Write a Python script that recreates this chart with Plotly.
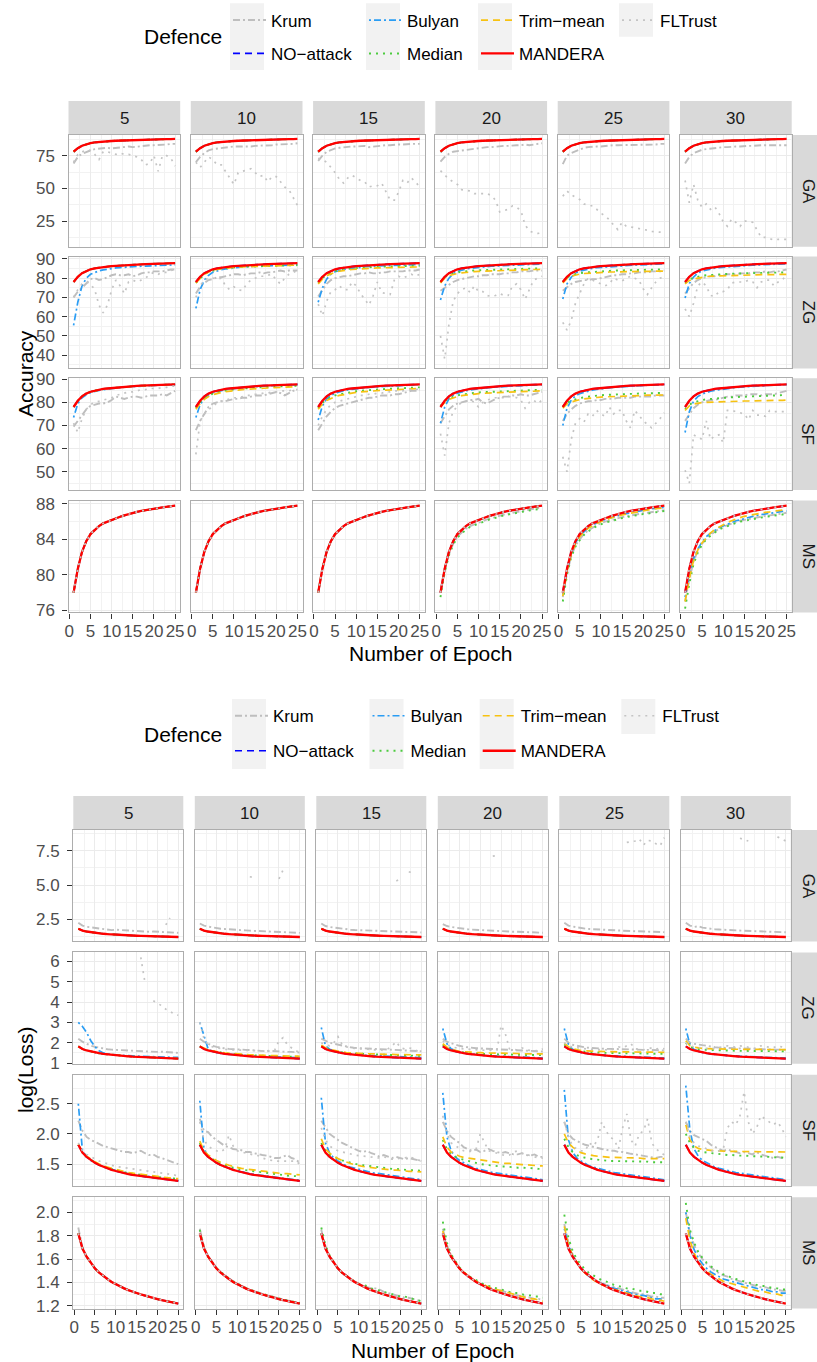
import plotly.graph_objects as go

W, H = 817, 1362
FONT = "Liberation Sans, Arial, sans-serif"

EPOCHS = list(range(1, 26))
COLS = [5, 10, 15, 20, 25, 30]
ROWS = ["GA", "ZG", "SF", "MS"]
DEFENCES = ["Krum", "NO-attack", "Bulyan", "Median", "Trim-mean", "MANDERA", "FLTrust"]
LABELS = ["Krum", "NO\u2212attack", "Bulyan", "Median", "Trim\u2212mean", "MANDERA", "FLTrust"]

X_TICKS = [0, 5, 10, 15, 20, 25]
X_TICKTEXT = ["0", "5", "10", "15", "20", "25"]
X_MINOR = [2.5, 7.5, 12.5, 17.5, 22.5]

ACC_TICKS = {"GA": [25, 50, 75], "ZG": [40, 50, 60, 70, 80, 90], "SF": [50, 60, 70, 80, 90], "MS": [76, 80, 84, 88]}
ACC_TICKTEXT = {"GA": ["25", "50", "75"], "ZG": ["40", "50", "60", "70", "80", "90"],
                "SF": ["50", "60", "70", "80", "90"], "MS": ["76", "80", "84", "88"]}
ACC_MINOR = {"GA": [12.5, 37.5, 62.5, 87.5], "ZG": [35, 45, 55, 65, 75, 85], "SF": [45, 55, 65, 75, 85], "MS": [78, 82, 86]}
LOSS_TICKS = {"GA": [2.5, 5.0, 7.5], "ZG": [1, 2, 3, 4, 5, 6], "SF": [1.5, 2.0, 2.5], "MS": [1.2, 1.4, 1.6, 1.8, 2.0]}
LOSS_TICKTEXT = {"GA": ["2.5", "5.0", "7.5"], "ZG": ["1", "2", "3", "4", "5", "6"],
                 "SF": ["1.5", "2.0", "2.5"], "MS": ["1.2", "1.4", "1.6", "1.8", "2.0"]}
LOSS_MINOR = {"GA": [1.25, 3.75, 6.25, 8.75], "ZG": [1.5, 2.5, 3.5, 4.5, 5.5], "SF": [1.25, 1.75, 2.25, 2.75],
              "MS": [1.3, 1.5, 1.7, 1.9, 2.1]}

N = None

# ---------------- Accuracy data ----------------
ACC_BASE = [78.0, 80.7, 82.6, 83.8, 84.6, 85.1, 85.5, 85.8, 86.0, 86.2, 86.4, 86.55, 86.7, 86.85, 87.0, 87.1, 87.2, 87.3, 87.38, 87.45, 87.52, 87.6, 87.66, 87.72, 87.8]

ACC_GA_KRUM_5 = [69, 74, 76.5, 78, 79, 80, 80.5, 81, 81, 80.5, 81, 81.5, 82, 82, 81.5, 82, 82.5, 82.5, 83, 83, 83, 83.5, 83.5, 84, 84]
ACC_GA_FLT_5 = [70, 76, 78, 79, 79, 76, 72, 78, 78, 77, 76, 77, 76, 76, 75, 74, 72, 68, 69, 75, 63, 75, 75, 73, 67]
ACC_GA_KRUM_10 = [70, 74, 77, 79, 80, 80.5, 81, 81.5, 81.5, 82, 82, 82, 81.5, 82, 82.5, 82.5, 83, 83, 83, 83.5, 83.5, 83.5, 84, 84, 84.5]
ACC_GA_FLT_10 = [70, 66, 70, 74, 72, 68, 68, 63, 58, 53, 62, 63, 64, 65, 62, 59, 60, 55, 59, 59, 55, 51, 49, 43, 37]
ACC_GA_KRUM_15 = [71, 75, 78, 79.5, 80.5, 81, 81.5, 81.5, 82, 82, 82.5, 82.5, 81.5, 82, 82.5, 83, 83, 83, 83.5, 83.5, 83.5, 84, 84, 84, 84]
ACC_GA_FLT_15 = [73, 72, 70, 66, 62, 57, 54, 58, 60, 58, 56, 55, 51, 52, 52, 54, 47, 41, 41, 47, 56, 54, 58, 55, 51]
ACC_GA_KRUM_20 = [70.5, 74, 76.5, 78, 78.5, 79, 79.5, 80, 80.5, 80.5, 81, 81.5, 81.5, 82, 82, 82.5, 82.5, 83, 83, 83, 83.5, 83, 83.5, 84, 84.5]
ACC_GA_FLT_20 = [63.5, 60, 57, 55, 53, 49, 48.5, 48, 46, 46, 46, 46, 44.5, 41, 32, 33, 34, 36.5, 35.5, 33, 22, 17.5, 16, 15.5, 16]
ACC_GA_KRUM_25 = [68.5, 75, 77, 78.5, 80, 81, 81.5, 82, 82, 82, 82.5, 82.5, 83, 83, 83, 83, 83.5, 83.5, 83.5, 83, 83.5, 83.5, 83.5, 84, 84]
ACC_GA_FLT_25 = [44, 48, 45, 43, 41.5, 38, 37, 36.5, 34, 31, 29, 26, 22, 18.5, 24, 21, 20.5, 20, 19.5, 19, 18, 17, 17, 16.5, 16]
ACC_GA_KRUM_30 = [69, 74, 77, 78.5, 79.5, 80, 80.5, 81, 81, 81.5, 81.5, 82, 82, 82, 82.5, 82.5, 82.5, 83, 83, 83, 83, 83, 83.5, 83.5, 83]
ACC_GA_FLT_30 = [56, 39, 53, 41, 35.5, 38, 34, 36, 31, 24.5, 21, 26.5, 24, 21, 25, 25, 24, 18, 12.5, 12.5, 11.5, 10.5, 11, 11, 11]

ACC_ZG_KRUM_5 = [70, 73, 75, 77.5, 79.5, 80, 79, 79.5, 80.5, 81.5, 82, 81.5, 81.5, 82, 81, 81.5, 82.5, 83, 83, 83.5, 83.5, 83.5, 84, 84.5, 84.5]
ACC_ZG_BULYAN_5 = [55.5, 67.5, 76, 80, 82, 83, 83.8, 84.3, 84.7, 85, 85.3, 85.5, 85.7, 85.9, 86, 86.1, 86.2, 86.3, 86.4, 86.5, 86.6, 86.7, 86.8, 86.85, 86.9]
ACC_ZG_FLT_5 = [70, 74, 77, 78, 77, 74, 66, 62, 66, 74, 79, 76, 72, 78, 79, 78, 79, 80, 82, 83, 82, 83, 83, 84, 84.5]
ACC_ZG_KRUM_10 = [72, 75.5, 77.5, 79, 79.5, 80.5, 80.5, 81, 81.5, 82, 82, 81.5, 82, 82.5, 82.5, 83, 82.5, 83, 83, 83.5, 84, 83.5, 84, 84, 84]
ACC_ZG_BULYAN_10 = [64.3, 74, 79, 81.5, 83, 83.8, 84.4, 84.8, 85.1, 85.4, 85.6, 85.8, 86, 86.1, 86.2, 86.3, 86.4, 86.5, 86.6, 86.6, 86.7, 86.8, 86.8, 86.9, 87]
ACC_ZG_TRIM_10 = [77.5, 80, 82, 83.2, 84, 84.5, 84.9, 85.2, 85.4, 85.6, 85.8, 85.9, 86, 86.1, 86.2, 86.3, 86.35, 86.4, 86.45, 86.5, 86.55, 86.6, 86.65, 86.7, 86.75]
ACC_ZG_FLT_10 = [70, 76, 79, 80, 80, 79.5, 80, 76, 74, 75.5, 74, 73.5, 77, 79, 80, 81, 81, 81.5, 82, 79, 77, 80, 82, 83, 84]
ACC_ZG_KRUM_15 = [70.5, 74, 77, 79, 80, 80.5, 81, 81, 81.5, 82, 82.5, 82.5, 83, 82.5, 82.5, 83, 83, 83.5, 83.5, 83.5, 83.5, 84, 84, 84, 84.5]
ACC_ZG_BULYAN_15 = [67.5, 75, 79.5, 82, 83.3, 84, 84.5, 84.9, 85.2, 85.5, 85.7, 85.9, 86.1, 86.2, 86.3, 86.4, 86.5, 86.6, 86.7, 86.8, 86.85, 86.9, 87, 87, 87.1]
ACC_ZG_MEDIAN_15 = [77.5, 80, 81.8, 83, 83.7, 84.2, 84.6, 84.9, 85.1, 85.3, 85.5, 85.6, 85.7, 85.8, 85.9, 86, 86, 86.1, 86.1, 86.2, 86.2, 86.3, 86.3, 86.4, 86.4]
ACC_ZG_TRIM_15 = [77, 79.5, 81.3, 82.4, 83.1, 83.6, 84, 84.3, 84.5, 84.7, 84.9, 85, 85.1, 85.2, 85.3, 85.4, 85.4, 85.5, 85.5, 85.6, 85.6, 85.7, 85.7, 85.8, 85.8]
ACC_ZG_FLT_15 = [66.5, 60.5, 68, 73, 74, 76, 74, 74, 78, 76, 72, 69, 66, 71, 78, 72.5, 72, 71.5, 79, 81, 80, 81, 82, 81, 82]
ACC_ZG_KRUM_20 = [73.5, 75, 76.5, 78, 79, 79.5, 80, 80.5, 81, 81, 81.5, 81.5, 82, 82, 82, 82.5, 82.5, 83, 83, 83.5, 83.5, 83.5, 84, 84, 84]
ACC_ZG_BULYAN_20 = [68.7, 76, 80, 82.3, 83.5, 84.2, 84.7, 85.1, 85.4, 85.6, 85.8, 86, 86.2, 86.3, 86.45, 86.6, 86.7, 86.8, 86.9, 87, 87.1, 87.2, 87.3, 87.3, 87.4]
ACC_ZG_MEDIAN_20 = [78, 80.5, 81.8, 82.5, 83, 83.3, 83.6, 83.8, 84, 84.1, 84.2, 84.3, 84.4, 84.5, 84.6, 84.6, 84.7, 84.8, 84.8, 84.9, 84.9, 85, 85, 85.1, 85.1]
ACC_ZG_TRIM_20 = [77.5, 80, 81.3, 82, 82.4, 82.7, 83, 83.2, 83.4, 83.5, 83.6, 83.7, 83.8, 83.9, 84, 84, 84.1, 84.2, 84.2, 84.3, 84.4, 84.4, 84.5, 84.5, 84.6]
ACC_ZG_FLT_20 = [50, 38, 56, 68, 72, 74, 75, 72.5, 76, 73, 73, 71, 70.5, 71, 72, 71, 71, 76, 77, 74, 69, 74, 79, 80, 81]
ACC_ZG_KRUM_25 = [73.5, 75.5, 77, 78, 78.5, 79, 79, 79.5, 79.5, 80, 80.5, 81, 81.5, 81.5, 82, 82, 82.5, 82.5, 83, 83, 83, 83.5, 83.5, 83.5, 84]
ACC_ZG_BULYAN_25 = [69.2, 77, 80.5, 82.5, 83.6, 84.2, 84.7, 85.1, 85.4, 85.6, 85.8, 86, 86.2, 86.3, 86.45, 86.6, 86.7, 86.8, 86.9, 87, 87.1, 87.2, 87.3, 87.3, 87.4]
ACC_ZG_MEDIAN_25 = [78, 80.3, 81.5, 82.2, 82.6, 82.9, 83.1, 83.3, 83.5, 83.6, 83.7, 83.8, 83.9, 84, 84, 84.1, 84.2, 84.2, 84.3, 84.3, 84.4, 84.4, 84.5, 84.5, 84.5]
ACC_ZG_TRIM_25 = [77.5, 79.8, 81, 81.7, 82.1, 82.4, 82.6, 82.8, 82.9, 83, 83.1, 83.2, 83.2, 83.3, 83.3, 83.4, 83.4, 83.5, 83.5, 83.5, 83.6, 83.6, 83.6, 83.7, 83.7]
ACC_ZG_FLT_25 = [57, 53, 58, 67, 72, 77, 80, 79, 78, 77, 76, 77, 80, 79, 78.5, 80, 81, 80, 79, 74.5, 71.5, 75, 78, 80, 81]
ACC_ZG_KRUM_30 = [72, 75, 77.5, 79, 80, 80.5, 81, 81, 81.5, 81.5, 82, 82, 82, 82.5, 82.5, 82.5, 83, 83, 83, 83.5, 83, 83.5, 83.5, 84, 84.5]
ACC_ZG_BULYAN_30 = [69.7, 77.2, 80.6, 82.6, 83.7, 84.3, 84.8, 85.2, 85.5, 85.7, 85.9, 86.1, 86.3, 86.4, 86.5, 86.65, 86.75, 86.85, 86.95, 87.05, 87.15, 87.25, 87.3, 87.35, 87.45]
ACC_ZG_MEDIAN_30 = [77.5, 79.3, 80.2, 80.8, 81.2, 81.5, 81.7, 81.9, 82, 82.1, 82.2, 82.3, 82.4, 82.5, 82.5, 82.6, 82.6, 82.7, 82.7, 82.8, 82.8, 82.9, 82.9, 83, 83]
ACC_ZG_TRIM_30 = [77, 78.8, 79.6, 80.1, 80.5, 80.8, 81, 81.1, 81.2, 81.3, 81.4, 81.5, 81.5, 81.6, 81.6, 81.7, 81.7, 81.7, 81.8, 81.8, 81.8, 81.9, 81.9, 81.9, 82]
ACC_ZG_FLT_30 = [64, 60, 67, 76, 78, 76, 71, 70.5, 73, 73, 74, 77.5, 78, 78, 78, 79, 78, 75, 78, 79, 79, 76, 78, 79, 82]

ACC_SF_KRUM_5 = [69.5, 72, 75, 77, 78.5, 79, 79.5, 79.5, 80, 81, 82.5, 82, 81.5, 82, 82.5, 82.5, 82, 82.5, 83, 83, 83, 83.5, 83, 84, 85]
ACC_SF_BULYAN_5 = [73.5, 79.5, 82, 83.3, 84.2, 84.8, 85.2, 85.5, 85.8, 86, 86.2, 86.4, 86.55, 86.7, 86.85, 87, 87.1, 87.2, 87.3, 87.35, 87.4, 87.5, 87.55, 87.6, 87.7]
ACC_SF_FLT_5 = [71, 67, 73, 77, 79, 80, 80.5, 81, 81.5, 82, 83, 83.5, 84, 84.5, 84.5, 85, 85.5, 85.5, 86, 86, 86, 86.5, 86.5, 87, 87]
ACC_SF_KRUM_10 = [68, 72, 75, 78, 79.5, 80, 80.5, 80.5, 81, 81.5, 81.5, 82, 82, 82.5, 83, 83, 83, 83.5, 84, 84.5, 84, 83, 84, 85, 85.5]
ACC_SF_BULYAN_10 = [73.5, 79, 81.8, 83.2, 84.1, 84.7, 85.1, 85.5, 85.8, 86, 86.2, 86.4, 86.55, 86.7, 86.85, 87, 87.1, 87.2, 87.3, 87.35, 87.4, 87.5, 87.55, 87.6, 87.7]
ACC_SF_MEDIAN_10 = [77.5, 80, 81.8, 83, 83.8, 84.4, 84.8, 85.1, 85.4, 85.6, 85.8, 86, 86.1, 86.3, 86.4, 86.5, 86.6, 86.7, 86.8, 86.9, 87, 87, 87.1, 87.2, 87.2]
ACC_SF_TRIM_10 = [77, 79.5, 81.3, 82.5, 83.3, 83.9, 84.3, 84.6, 84.9, 85.1, 85.3, 85.5, 85.6, 85.8, 85.9, 86, 86.1, 86.2, 86.3, 86.4, 86.5, 86.5, 86.6, 86.7, 86.8]
ACC_SF_FLT_10 = [57.5, 72, 75, 77, 78, 80, 80.5, 81, 81.5, 82, 82, 82.5, 83, 83, 83.5, 83.5, 84, 84, 84.5, 84.5, 85, 85, 85, 85.5, 85.5]
ACC_SF_KRUM_15 = [68, 71, 74, 76, 77.5, 78.5, 79, 79.5, 80, 80.5, 81, 81.5, 82, 82, 82.5, 83, 83, 83, 83.5, 83.5, 84, 84.5, 85, 85, 85.5]
ACC_SF_BULYAN_15 = [72.4, 78.5, 81.5, 83, 84, 84.6, 85, 85.4, 85.7, 85.9, 86.1, 86.3, 86.5, 86.6, 86.75, 86.9, 87, 87.1, 87.2, 87.3, 87.4, 87.45, 87.5, 87.6, 87.7]
ACC_SF_MEDIAN_15 = [77.5, 79.8, 81.3, 82.3, 83, 83.5, 83.9, 84.3, 84.6, 84.8, 85, 85.2, 85.4, 85.5, 85.6, 85.7, 85.8, 85.9, 86, 86.1, 86.2, 86.3, 86.4, 86.4, 86.5]
ACC_SF_TRIM_15 = [77, 79.3, 80.8, 81.8, 82.5, 83, 83.4, 83.8, 84.1, 84.3, 84.5, 84.7, 84.9, 85, 85.1, 85.2, 85.3, 85.4, 85.5, 85.6, 85.7, 85.8, 85.9, 85.9, 86]
ACC_SF_FLT_15 = [70, 74, 77, 79, 80, 80.5, 81, 81.5, 82, 82.5, 83, 83, 83.5, 83.5, 84, 84, 84.5, 84.5, 85, 85, 85, 85.5, 85.5, 85.5, 86]
ACC_SF_KRUM_20 = [71, 74, 77, 78.5, 79.5, 80, 80.5, 81, 81, 81.5, 80, 79.5, 80.5, 81.5, 82, 82.5, 82.5, 83, 83, 83.5, 83, 83, 83.5, 84, 84.5]
ACC_SF_BULYAN_20 = [71, 78, 81.5, 83, 84, 84.6, 85, 85.4, 85.7, 85.9, 86.1, 86.3, 86.5, 86.6, 86.75, 86.9, 87, 87.1, 87.2, 87.3, 87.4, 87.45, 87.5, 87.6, 87.7]
ACC_SF_MEDIAN_20 = [78.5, 80.5, 81.8, 82.5, 83, 83.4, 83.7, 83.9, 84.1, 84.3, 84.4, 84.5, 84.6, 84.7, 84.8, 84.9, 85, 85, 85.1, 85.2, 85.2, 85.3, 85.3, 85.4, 85.4]
ACC_SF_TRIM_20 = [78, 80, 81.3, 82, 82.5, 82.9, 83.2, 83.4, 83.6, 83.8, 83.9, 84, 84.1, 84.2, 84.3, 84.4, 84.5, 84.5, 84.6, 84.7, 84.7, 84.8, 84.8, 84.9, 85]
ACC_SF_FLT_20 = [66.5, 57, 71, 76, 78.5, 80, 80.5, 81, 80, 78, 80, 81, 81.5, 82, 82, 82, 82.5, 82.5, 82, 81, 77.5, 80, 81, 79.5, 81]
ACC_SF_KRUM_25 = [72, 75, 77, 78.5, 79.5, 80, 80.5, 80.5, 81, 81, 81.5, 81.5, 81.5, 82, 82, 82, 82, 82.5, 82.5, 82.5, 82.5, 82.5, 83, 83, 83]
ACC_SF_BULYAN_25 = [70, 77.5, 81, 82.8, 83.8, 84.4, 84.9, 85.3, 85.6, 85.9, 86.1, 86.3, 86.5, 86.6, 86.75, 86.9, 87, 87.1, 87.2, 87.3, 87.4, 87.45, 87.5, 87.6, 87.7]
ACC_SF_MEDIAN_25 = [78, 79.8, 80.8, 81.4, 81.8, 82.2, 82.5, 82.7, 82.9, 83.1, 83.2, 83.3, 83.4, 83.5, 83.6, 83.6, 83.7, 83.8, 83.8, 83.9, 83.9, 84, 84, 84.1, 84.1]
ACC_SF_TRIM_25 = [77.5, 79.3, 80.2, 80.8, 81.2, 81.5, 81.8, 82, 82.1, 82.3, 82.4, 82.5, 82.6, 82.7, 82.8, 82.8, 82.9, 82.9, 83, 83, 83.1, 83.1, 83.2, 83.2, 83.2]
ACC_SF_FLT_25 = [56.5, 50, 64, 71, 73, 71.5, 75, 74, 76.5, 75, 74, 78, 75, 76.5, 76.5, 72, 69, 76.5, 74.5, 72, 70.5, 69, 71, 73, 75.5]
ACC_SF_KRUM_30 = [72, 75, 77.5, 79, 80, 80.5, 81, 81, 81.5, 82, 82.5, 82.5, 83, 83, 83, 83.5, 83.5, 83.5, 83, 83.5, 83.5, 83.5, 84, 84.5, 85]
ACC_SF_BULYAN_30 = [67, 76, 80.5, 82.5, 83.6, 84.3, 84.8, 85.2, 85.5, 85.8, 86, 86.2, 86.4, 86.55, 86.7, 86.85, 86.95, 87.05, 87.15, 87.25, 87.35, 87.45, 87.5, 87.6, 87.7]
ACC_SF_MEDIAN_30 = [77, 79, 80, 80.6, 81, 81.3, 81.5, 81.7, 81.9, 82, 82.1, 82.2, 82.3, 82.4, 82.5, 82.6, 82.7, 82.7, 82.8, 82.9, 82.9, 83, 83, 83.1, 83.2]
ACC_SF_TRIM_30 = [76.5, 78.5, 79.3, 79.7, 79.9, 80, 80.1, 80.2, 80.3, 80.3, 80.4, 80.4, 80.5, 80.5, 80.6, 80.6, 80.6, 80.7, 80.7, 80.8, 80.8, 80.8, 80.9, 80.9, 81]
ACC_SF_FLT_30 = [50.7, 45, 66, 65, 64, 72, 64, 65.5, 66, 62.5, 76.5, 76.5, 76, 75.5, 75, 72.5, 76.5, 74.5, 74.5, 74, 76.5, 76, 76, 76, 76]

ACC_MS_KRUM_20 = [78, 80.5, 82.3, 83.5, 84.3, 84.8, 85.2, 85.5, 85.7, 85.9, 86.1, 86.25, 86.4, 86.55, 86.7, 86.8, 86.9, 87, 87.1, 87.2, 87.25, 87.35, 87.45, 87.5, 87.6]
ACC_MS_MEDIAN_20 = [77.5, 80.3, 82.2, 83.4, 84.2, 84.7, 85.1, 85.4, 85.6, 85.8, 86, 86.15, 86.3, 86.45, 86.6, 86.7, 86.8, 86.9, 87, 87.1, 87.15, 87.25, 87.35, 87.4, 87.5]
ACC_MS_KRUM_25 = [77.5, 80.2, 82.1, 83.3, 84, 84.6, 85, 85.3, 85.6, 85.8, 86, 86.1, 86.25, 86.4, 86.5, 86.6, 86.7, 86.8, 86.9, 86.95, 87, 87.1, 87.15, 87.2, 87.3]
ACC_MS_MEDIAN_25 = [77, 80, 82, 83.2, 83.9, 84.5, 84.9, 85.2, 85.5, 85.7, 85.9, 86, 86.15, 86.3, 86.4, 86.5, 86.6, 86.7, 86.8, 86.85, 86.9, 87, 87.05, 87.1, 87.2]
ACC_MS_BULYAN_25 = [77.8, 80.5, 82.4, 83.6, 84.4, 84.9, 85.3, 85.6, 85.85, 86.05, 86.25, 86.4, 86.55, 86.7, 86.8, 86.9, 87, 87.1, 87.2, 87.3, 87.35, 87.45, 87.5, 87.55, 87.6]
ACC_MS_TRIM_25 = [77.6, 80.4, 82.3, 83.5, 84.3, 84.85, 85.25, 85.55, 85.8, 86, 86.2, 86.35, 86.5, 86.65, 86.75, 86.85, 86.95, 87.05, 87.15, 87.25, 87.3, 87.4, 87.45, 87.5, 87.55]
ACC_MS_KRUM_30 = [77, 79.5, 81.5, 82.7, 83.5, 84.1, 84.5, 84.9, 85.2, 85.4, 85.6, 85.8, 85.95, 86.1, 86.2, 86.3, 86.4, 86.5, 86.6, 86.65, 86.7, 86.8, 86.85, 86.9, 87.0]
ACC_MS_MEDIAN_30 = [76.2, 79.0, 81.2, 82.5, 83.4, 84.0, 84.4, 84.8, 85.1, 85.3, 85.5, 85.7, 85.85, 86.0, 86.1, 86.2, 86.3, 86.4, 86.5, 86.55, 86.6, 86.7, 86.75, 86.8, 86.9]
ACC_MS_BULYAN_30 = [77.5, 80.0, 81.8, 82.9, 83.7, 84.3, 84.7, 85.0, 85.3, 85.5, 85.7, 85.9, 86.1, 86.2, 86.35, 86.5, 86.6, 86.7, 86.8, 86.9, 86.95, 87.0, 87.1, 87.15, 87.2]
ACC_MS_TRIM_30 = [77.0, 79.6, 81.6, 82.8, 83.6, 84.2, 84.7, 85.1, 85.4, 85.7, 85.9, 86.1, 86.3, 86.45, 86.6, 86.7, 86.8, 86.9, 87.0, 87.05, 87.1, 87.2, 87.25, 87.3, 87.4]

# ---------------- log(Loss) data ----------------
LOSS_BASE = [1.82, 1.69, 1.62, 1.565, 1.52, 1.485, 1.455, 1.43, 1.405, 1.385, 1.365, 1.35, 1.335, 1.32, 1.31, 1.298, 1.287, 1.277, 1.267, 1.258, 1.25, 1.242, 1.235, 1.228, 1.22]

LOSS_GA_KRUM_5 = [2.25, 2.05, 1.96, 1.92, 1.88, 1.85, 1.8, 1.76, 1.72, 1.75, 1.73, 1.68, 1.66, 1.65, 1.66, 1.64, 1.62, 1.6, 1.62, 1.6, 1.58, 1.56, 1.57, 1.55, 1.52]
LOSS_GA_FLT_5 = [N, N, N, N, N, N, N, N, N, N, N, N, N, N, N, N, N, N, N, N, N, 2.1, 2.6, N, N]
LOSS_GA_KRUM_10 = [2.2, 2.05, 1.98, 1.92, 1.86, 1.82, 1.8, 1.77, 1.75, 1.74, 1.72, 1.7, 1.68, 1.67, 1.66, 1.65, 1.64, 1.63, 1.62, 1.6, 1.58, 1.56, 1.55, 1.54, 1.52]
LOSS_GA_FLT_10 = [N, N, N, N, N, N, N, N, N, N, N, N, 5.6, 5.55, N, N, N, N, N, 5.45, 6.1, N, N, N, N]
LOSS_GA_KRUM_15 = [2.2, 2.02, 1.95, 1.9, 1.85, 1.8, 1.78, 1.75, 1.73, 1.72, 1.7, 1.68, 1.66, 1.66, 1.65, 1.64, 1.62, 1.6, 1.6, 1.62, 1.6, 1.58, 1.58, 1.56, 1.55]
LOSS_GA_FLT_15 = [N, N, N, N, N, N, N, N, N, N, N, N, N, N, N, N, N, N, 5.3, 5.45, N, 5.95, 5.9, N, N]
LOSS_GA_KRUM_20 = [2.15, 2.02, 1.95, 1.9, 1.85, 1.82, 1.78, 1.76, 1.74, 1.72, 1.7, 1.68, 1.68, 1.66, 1.64, 1.63, 1.62, 1.6, 1.6, 1.59, 1.58, 1.57, 1.56, 1.55, 1.53]
LOSS_GA_FLT_20 = [N, N, N, N, N, N, N, N, N, N, N, N, 7.1, 7.15, N, N, N, N, N, N, N, N, N, N, N]
LOSS_GA_KRUM_25 = [2.25, 2.05, 1.98, 1.92, 1.87, 1.83, 1.8, 1.78, 1.76, 1.74, 1.72, 1.7, 1.69, 1.68, 1.67, 1.66, 1.65, 1.64, 1.63, 1.62, 1.61, 1.6, 1.59, 1.58, 1.57]
LOSS_GA_FLT_25 = [N, N, N, N, N, N, N, N, N, N, N, N, N, N, N, 8.1, 8.15, 8.2, 8.35, 7.9, 8.25, 8.2, 8.0, 7.85, 8.45]
LOSS_GA_KRUM_30 = [2.25, 2.05, 1.95, 2.0, 1.9, 1.85, 1.8, 1.78, 1.76, 1.74, 1.73, 1.72, 1.7, 1.68, 1.68, 1.66, 1.65, 1.64, 1.63, 1.62, 1.6, 1.6, 1.58, 1.57, 1.56]
LOSS_GA_FLT_30 = [N, N, N, N, N, N, N, N, N, N, N, N, N, 8.4, 8.3, 8.2, N, N, N, N, N, N, 8.5, 8.35, 8.2]

LOSS_ZG_KRUM_5 = [2.2, 2.05, 1.95, 1.85, 1.8, 1.75, 1.7, 1.68, 1.66, 1.65, 1.65, 1.64, 1.62, 1.6, 1.6, 1.58, 1.56, 1.55, 1.55, 1.55, 1.56, 1.55, 1.54, 1.52, 1.5]
LOSS_ZG_BULYAN_5 = [3.0, 2.8, 2.5, 2.1, 1.8, 1.6, 1.5, 1.45, 1.42, 1.4, 1.38, 1.37, 1.36, 1.35, 1.34, 1.33, 1.32, 1.31, 1.31, 1.3, 1.3, 1.29, 1.29, 1.28, 1.28]
LOSS_ZG_FLT_5 = [N, N, N, N, N, N, N, N, N, N, N, N, N, N, N, 6.2, 4.95, N, 4.06, 3.95, 3.82, 3.65, 3.55, 3.4, 3.35]
LOSS_ZG_KRUM_10 = [2.2, 2.05, 1.95, 1.85, 1.8, 1.75, 1.72, 1.7, 1.68, 1.67, 1.66, 1.65, 1.64, 1.62, 1.6, 1.6, 1.58, 1.6, 1.58, 1.57, 1.56, 1.55, 1.55, 1.54, 1.52]
LOSS_ZG_BULYAN_10 = [3.0, 2.3, 1.7, 1.58, 1.52, 1.48, 1.45, 1.43, 1.41, 1.39, 1.37, 1.36, 1.35, 1.34, 1.33, 1.32, 1.31, 1.3, 1.29, 1.28, 1.28, 1.27, 1.27, 1.26, 1.26]
LOSS_ZG_MEDIAN_10 = [1.82, 1.71, 1.64, 1.59, 1.55, 1.51, 1.48, 1.46, 1.44, 1.42, 1.41, 1.4, 1.39, 1.38, 1.37, 1.36, 1.35, 1.35, 1.34, 1.33, 1.33, 1.32, 1.32, 1.31, 1.31]
LOSS_ZG_TRIM_10 = [1.82, 1.72, 1.65, 1.6, 1.56, 1.53, 1.5, 1.48, 1.46, 1.44, 1.43, 1.42, 1.41, 1.4, 1.39, 1.38, 1.37, 1.37, 1.36, 1.36, 1.35, 1.35, 1.34, 1.34, 1.33]
LOSS_ZG_FLT_10 = [3.0, 2.2, 1.9, 1.8, 1.75, 1.7, 1.68, 1.66, 1.65, 1.64, 1.63, 1.62, 1.6, 1.6, 1.58, 1.6, 1.6, 1.62, 1.65, 2.1, 2.25, 1.9, 1.75, 1.6, 1.55]
LOSS_ZG_KRUM_15 = [2.2, 2.1, 2.0, 1.95, 1.9, 1.85, 1.8, 1.78, 1.75, 1.74, 1.73, 1.72, 1.7, 1.7, 1.68, 1.67, 1.66, 1.65, 1.64, 1.63, 1.62, 1.62, 1.6, 1.6, 1.58]
LOSS_ZG_BULYAN_15 = [2.75, 1.85, 1.68, 1.6, 1.55, 1.5, 1.47, 1.45, 1.43, 1.41, 1.39, 1.38, 1.37, 1.36, 1.35, 1.34, 1.33, 1.32, 1.31, 1.3, 1.3, 1.29, 1.28, 1.28, 1.27]
LOSS_ZG_MEDIAN_15 = [1.85, 1.73, 1.65, 1.6, 1.56, 1.53, 1.5, 1.48, 1.47, 1.45, 1.44, 1.43, 1.42, 1.41, 1.41, 1.4, 1.39, 1.39, 1.38, 1.38, 1.37, 1.37, 1.36, 1.36, 1.36]
LOSS_ZG_TRIM_15 = [1.88, 1.75, 1.67, 1.62, 1.58, 1.55, 1.52, 1.5, 1.49, 1.48, 1.47, 1.46, 1.45, 1.45, 1.44, 1.44, 1.43, 1.43, 1.42, 1.42, 1.42, 1.41, 1.41, 1.41, 1.4]
LOSS_ZG_FLT_15 = [2.0, 1.9, 1.85, 2.0, 2.3, 1.9, 1.8, 1.75, 1.72, 1.7, 1.7, 1.68, 1.66, 1.65, 1.64, 1.62, 1.7, 1.85, 2.05, 1.75, 1.7, 1.75, 1.7, 1.6, 1.55]
LOSS_ZG_KRUM_20 = [2.2, 2.05, 1.98, 1.9, 1.85, 1.8, 1.77, 1.75, 1.73, 1.72, 1.71, 1.7, 1.69, 1.68, 1.68, 1.67, 1.66, 1.65, 1.64, 1.63, 1.62, 1.6, 1.59, 1.58, 1.57]
LOSS_ZG_BULYAN_20 = [2.7, 1.95, 1.7, 1.6, 1.54, 1.5, 1.47, 1.44, 1.42, 1.4, 1.38, 1.36, 1.35, 1.34, 1.33, 1.32, 1.31, 1.3, 1.29, 1.28, 1.27, 1.26, 1.26, 1.25, 1.25]
LOSS_ZG_MEDIAN_20 = [1.9, 1.75, 1.65, 1.59, 1.55, 1.52, 1.5, 1.48, 1.47, 1.46, 1.45, 1.44, 1.44, 1.43, 1.43, 1.42, 1.42, 1.41, 1.41, 1.41, 1.4, 1.4, 1.4, 1.39, 1.39]
LOSS_ZG_TRIM_20 = [1.95, 1.78, 1.68, 1.62, 1.58, 1.56, 1.54, 1.53, 1.52, 1.51, 1.5, 1.5, 1.49, 1.49, 1.48, 1.48, 1.47, 1.47, 1.47, 1.46, 1.46, 1.46, 1.45, 1.45, 1.45]
LOSS_ZG_FLT_20 = [2.1, 1.9, 1.8, 1.75, 1.72, 1.7, 1.68, 1.66, 1.65, 1.64, 1.63, 1.62, 1.62, 1.65, 2.85, 2.45, 1.7, 1.66, 1.64, 1.75, 1.65, 1.62, 1.6, 1.62, 1.7]
LOSS_ZG_KRUM_25 = [2.2, 2.0, 1.9, 1.85, 1.8, 1.77, 1.75, 1.73, 1.72, 1.71, 1.7, 1.7, 1.69, 1.68, 1.68, 1.67, 1.67, 1.66, 1.66, 1.65, 1.65, 1.64, 1.64, 1.63, 1.62]
LOSS_ZG_BULYAN_25 = [2.7, 1.9, 1.68, 1.58, 1.52, 1.48, 1.45, 1.43, 1.41, 1.39, 1.37, 1.36, 1.35, 1.34, 1.33, 1.32, 1.31, 1.3, 1.29, 1.28, 1.27, 1.26, 1.26, 1.25, 1.25]
LOSS_ZG_MEDIAN_25 = [1.92, 1.75, 1.66, 1.61, 1.58, 1.56, 1.54, 1.53, 1.52, 1.51, 1.5, 1.5, 1.49, 1.49, 1.48, 1.48, 1.48, 1.47, 1.47, 1.47, 1.47, 1.46, 1.46, 1.46, 1.46]
LOSS_ZG_TRIM_25 = [1.98, 1.8, 1.7, 1.65, 1.62, 1.6, 1.59, 1.58, 1.57, 1.57, 1.56, 1.56, 1.56, 1.55, 1.55, 1.55, 1.55, 1.54, 1.54, 1.54, 1.54, 1.54, 1.53, 1.53, 1.53]
LOSS_ZG_FLT_25 = [2.0, 1.85, 1.78, 1.75, 1.72, 1.7, 1.68, 1.67, 1.66, 1.66, 1.65, 1.65, 1.7, 1.8, 1.75, 1.85, 1.95, 1.7, 1.66, 1.65, 1.7, 1.75, 1.68, 1.75, 1.7]
LOSS_ZG_KRUM_30 = [2.2, 2.0, 1.95, 1.9, 1.88, 1.85, 1.8, 1.78, 1.76, 1.75, 1.74, 1.73, 1.72, 1.71, 1.7, 1.7, 1.69, 1.68, 1.68, 1.67, 1.67, 1.66, 1.66, 1.65, 1.65]
LOSS_ZG_BULYAN_30 = [2.7, 1.9, 1.66, 1.57, 1.52, 1.48, 1.45, 1.43, 1.41, 1.39, 1.37, 1.36, 1.35, 1.34, 1.33, 1.32, 1.31, 1.3, 1.29, 1.28, 1.27, 1.26, 1.25, 1.24, 1.24]
LOSS_ZG_MEDIAN_30 = [2.0, 1.8, 1.72, 1.68, 1.66, 1.65, 1.64, 1.63, 1.62, 1.62, 1.61, 1.61, 1.61, 1.6, 1.6, 1.6, 1.6, 1.6, 1.59, 1.59, 1.59, 1.59, 1.59, 1.58, 1.58]
LOSS_ZG_TRIM_30 = [2.1, 1.85, 1.78, 1.74, 1.72, 1.71, 1.7, 1.7, 1.69, 1.69, 1.69, 1.68, 1.68, 1.68, 1.68, 1.68, 1.67, 1.67, 1.67, 1.67, 1.67, 1.67, 1.66, 1.66, 1.66]
LOSS_ZG_FLT_30 = [2.0, 1.85, 1.8, 1.76, 1.74, 1.72, 1.7, 1.72, 1.75, 1.8, 1.85, 1.8, 1.78, 1.85, 1.8, 1.78, 1.75, 1.72, 1.85, 1.8, 1.78, 1.75, 1.85, 1.8, 1.75]

LOSS_SF_KRUM_5 = [2.22, 2.05, 1.95, 1.9, 1.87, 1.83, 1.8, 1.78, 1.76, 1.75, 1.73, 1.7, 1.7, 1.68, 1.7, 1.72, 1.68, 1.65, 1.66, 1.62, 1.6, 1.58, 1.55, 1.52, 1.5]
LOSS_SF_BULYAN_5 = [2.5, 1.72, 1.62, 1.56, 1.52, 1.48, 1.45, 1.43, 1.41, 1.39, 1.37, 1.35, 1.34, 1.33, 1.32, 1.31, 1.3, 1.29, 1.28, 1.27, 1.26, 1.25, 1.245, 1.24, 1.23]
LOSS_SF_MEDIAN_5 = [1.82, 1.69, 1.62, 1.57, 1.53, 1.49, 1.46, 1.44, 1.42, 1.4, 1.38, 1.37, 1.35, 1.34, 1.33, 1.32, 1.31, 1.3, 1.3, 1.29, 1.28, 1.27, 1.26, 1.26, 1.25]
LOSS_SF_TRIM_5 = [1.83, 1.7, 1.63, 1.58, 1.54, 1.5, 1.47, 1.45, 1.43, 1.41, 1.39, 1.37, 1.36, 1.35, 1.34, 1.33, 1.32, 1.31, 1.3, 1.29, 1.28, 1.27, 1.27, 1.26, 1.26]
LOSS_SF_FLT_5 = [1.85, 1.72, 1.66, 1.62, 1.58, 1.55, 1.53, 1.5, 1.48, 1.46, 1.45, 1.44, 1.43, 1.42, 1.41, 1.41, 1.4, 1.39, 1.38, 1.37, 1.36, 1.35, 1.33, 1.32, 1.3]
LOSS_SF_KRUM_10 = [2.25, 2.05, 2.03, 1.95, 1.9, 1.85, 1.8, 1.78, 1.75, 1.74, 1.73, 1.7, 1.7, 1.68, 1.66, 1.65, 1.64, 1.62, 1.6, 1.6, 1.62, 1.65, 1.6, 1.58, 1.52]
LOSS_SF_BULYAN_10 = [2.55, 1.75, 1.63, 1.56, 1.52, 1.48, 1.45, 1.43, 1.41, 1.39, 1.37, 1.35, 1.34, 1.33, 1.32, 1.31, 1.3, 1.29, 1.28, 1.27, 1.26, 1.25, 1.245, 1.24, 1.23]
LOSS_SF_MEDIAN_10 = [1.85, 1.7, 1.63, 1.58, 1.54, 1.51, 1.48, 1.46, 1.44, 1.42, 1.41, 1.4, 1.39, 1.38, 1.37, 1.36, 1.35, 1.34, 1.33, 1.33, 1.32, 1.31, 1.3, 1.3, 1.29]
LOSS_SF_TRIM_10 = [1.88, 1.72, 1.65, 1.6, 1.56, 1.53, 1.5, 1.48, 1.46, 1.44, 1.43, 1.42, 1.41, 1.4, 1.39, 1.38, 1.37, 1.36, 1.36, 1.35, 1.34, 1.34, 1.33, 1.32, 1.32]
LOSS_SF_FLT_10 = [2.2, 1.9, 1.8, 1.75, 1.72, 1.7, 1.75, 1.98, 1.8, 1.72, 1.7, 1.68, 1.66, 1.65, 1.64, 1.6, 1.58, 1.56, 1.55, 1.55, 1.55, 1.56, 1.55, 1.55, 1.5]
LOSS_SF_KRUM_15 = [2.22, 2.1, 2.0, 1.95, 1.9, 1.85, 1.82, 1.78, 1.75, 1.72, 1.7, 1.72, 1.68, 1.66, 1.62, 1.65, 1.62, 1.6, 1.62, 1.6, 1.58, 1.6, 1.58, 1.56, 1.55]
LOSS_SF_BULYAN_15 = [2.6, 1.85, 1.68, 1.6, 1.55, 1.51, 1.47, 1.45, 1.43, 1.41, 1.39, 1.37, 1.36, 1.35, 1.34, 1.33, 1.32, 1.31, 1.3, 1.29, 1.28, 1.27, 1.26, 1.25, 1.24]
LOSS_SF_MEDIAN_15 = [1.85, 1.72, 1.66, 1.62, 1.59, 1.56, 1.54, 1.52, 1.5, 1.49, 1.48, 1.47, 1.46, 1.45, 1.44, 1.43, 1.43, 1.42, 1.42, 1.41, 1.41, 1.4, 1.4, 1.39, 1.39]
LOSS_SF_TRIM_15 = [1.92, 1.75, 1.68, 1.63, 1.59, 1.56, 1.53, 1.51, 1.49, 1.47, 1.46, 1.45, 1.44, 1.43, 1.42, 1.41, 1.41, 1.4, 1.4, 1.39, 1.39, 1.38, 1.38, 1.37, 1.37]
LOSS_SF_FLT_15 = [2.1, 1.9, 1.8, 1.75, 1.72, 1.7, 1.68, 1.66, 1.65, 1.64, 1.63, 1.62, 1.61, 1.6, 1.6, 1.62, 1.6, 1.58, 1.58, 1.6, 1.6, 1.62, 1.6, 1.58, 1.55]
LOSS_SF_KRUM_20 = [2.2, 2.05, 1.95, 1.9, 1.85, 1.78, 1.75, 1.72, 1.74, 1.7, 1.72, 1.75, 1.72, 1.7, 1.68, 1.7, 1.68, 1.66, 1.66, 1.68, 1.65, 1.64, 1.66, 1.62, 1.62]
LOSS_SF_BULYAN_20 = [2.68, 1.95, 1.72, 1.62, 1.56, 1.52, 1.48, 1.45, 1.43, 1.41, 1.39, 1.37, 1.36, 1.35, 1.34, 1.33, 1.32, 1.31, 1.3, 1.29, 1.28, 1.27, 1.26, 1.25, 1.24]
LOSS_SF_MEDIAN_20 = [1.9, 1.75, 1.67, 1.62, 1.59, 1.57, 1.55, 1.53, 1.52, 1.5, 1.49, 1.48, 1.48, 1.47, 1.46, 1.46, 1.45, 1.45, 1.44, 1.44, 1.44, 1.43, 1.43, 1.42, 1.42]
LOSS_SF_TRIM_20 = [1.95, 1.78, 1.7, 1.66, 1.63, 1.61, 1.6, 1.58, 1.57, 1.56, 1.55, 1.54, 1.53, 1.53, 1.52, 1.51, 1.51, 1.5, 1.5, 1.49, 1.49, 1.48, 1.48, 1.47, 1.47]
LOSS_SF_FLT_20 = [2.3, 2.0, 1.85, 1.8, 1.76, 1.72, 1.7, 1.72, 1.75, 2.0, 1.85, 1.72, 1.7, 1.68, 1.66, 1.64, 1.65, 1.7, 1.72, 1.68, 1.66, 1.64, 1.62, 1.6, 1.6]
LOSS_SF_KRUM_25 = [2.2, 2.0, 1.92, 1.88, 1.85, 1.82, 1.8, 1.78, 1.76, 1.75, 1.74, 1.72, 1.72, 1.7, 1.7, 1.68, 1.67, 1.66, 1.65, 1.64, 1.63, 1.62, 1.6, 1.62, 1.62]
LOSS_SF_BULYAN_25 = [2.73, 1.9, 1.7, 1.6, 1.55, 1.51, 1.47, 1.45, 1.43, 1.41, 1.39, 1.37, 1.36, 1.35, 1.34, 1.33, 1.32, 1.31, 1.3, 1.29, 1.28, 1.27, 1.26, 1.25, 1.24]
LOSS_SF_MEDIAN_25 = [1.92, 1.78, 1.7, 1.65, 1.62, 1.6, 1.59, 1.58, 1.57, 1.56, 1.56, 1.55, 1.55, 1.55, 1.54, 1.54, 1.54, 1.54, 1.54, 1.54, 1.54, 1.53, 1.53, 1.53, 1.53]
LOSS_SF_TRIM_25 = [2.0, 1.85, 1.78, 1.73, 1.69, 1.67, 1.65, 1.64, 1.63, 1.62, 1.62, 1.61, 1.61, 1.61, 1.6, 1.6, 1.6, 1.6, 1.6, 1.59, 1.59, 1.59, 1.59, 1.59, 1.59]
LOSS_SF_FLT_25 = [2.2, 1.95, 1.8, 1.75, 1.72, 1.72, 1.85, 1.8, 1.9, 2.2, 2.05, 1.95, 1.9, 1.75, 2.1, 2.33, 1.9, 1.8, 2.0, 2.05, 2.25, 1.85, 1.75, 1.7, 1.65]
LOSS_SF_KRUM_30 = [2.2, 2.05, 1.98, 1.95, 1.92, 1.88, 1.82, 1.78, 1.75, 1.72, 1.74, 1.72, 1.7, 1.68, 1.7, 1.68, 1.66, 1.7, 1.66, 1.64, 1.62, 1.6, 1.62, 1.6, 1.62]
LOSS_SF_BULYAN_30 = [2.8, 2.05, 1.75, 1.63, 1.56, 1.52, 1.48, 1.45, 1.43, 1.41, 1.39, 1.37, 1.36, 1.35, 1.34, 1.33, 1.32, 1.31, 1.3, 1.29, 1.28, 1.27, 1.26, 1.25, 1.24]
LOSS_SF_MEDIAN_30 = [2.0, 1.85, 1.76, 1.72, 1.7, 1.69, 1.68, 1.67, 1.66, 1.66, 1.65, 1.65, 1.64, 1.64, 1.64, 1.63, 1.63, 1.63, 1.62, 1.62, 1.62, 1.61, 1.61, 1.61, 1.6]
LOSS_SF_TRIM_30 = [2.15, 1.9, 1.8, 1.76, 1.74, 1.73, 1.72, 1.72, 1.72, 1.71, 1.71, 1.71, 1.71, 1.7, 1.7, 1.7, 1.7, 1.7, 1.7, 1.7, 1.7, 1.7, 1.7, 1.7, 1.7]
LOSS_SF_FLT_30 = [2.2, 1.95, 1.85, 1.8, 1.78, 1.75, 1.72, 1.7, 1.72, 1.75, 2.1, 2.2, 2.15, 2.3, 2.7, 2.2, 2.0, 2.1, 2.3, 2.25, 2.2, 2.15, 2.2, 2.1, 1.95]

LOSS_MS_KRUM_5 = [1.87, 1.7, 1.62, 1.565, 1.52, 1.485, 1.455, 1.43, 1.405, 1.385, 1.365, 1.35, 1.335, 1.32, 1.31, 1.298, 1.287, 1.277, 1.267, 1.258, 1.25, 1.242, 1.235, 1.228, 1.22]
LOSS_MS_KRUM_10 = [1.86, 1.7, 1.625, 1.57, 1.525, 1.49, 1.46, 1.435, 1.41, 1.39, 1.37, 1.355, 1.34, 1.325, 1.315, 1.303, 1.292, 1.282, 1.272, 1.263, 1.255, 1.247, 1.24, 1.233, 1.225]
LOSS_MS_MEDIAN_10 = [1.85, 1.7, 1.62, 1.57, 1.525, 1.49, 1.46, 1.435, 1.41, 1.39, 1.37, 1.355, 1.34, 1.325, 1.315, 1.303, 1.292, 1.282, 1.272, 1.263, 1.255, 1.247, 1.24, 1.233, 1.225]
LOSS_MS_KRUM_15 = [1.85, 1.71, 1.63, 1.57, 1.52, 1.48, 1.45, 1.43, 1.41, 1.39, 1.37, 1.36, 1.35, 1.35, 1.34, 1.32, 1.31, 1.3, 1.29, 1.28, 1.27, 1.27, 1.26, 1.25, 1.24]
LOSS_MS_MEDIAN_15 = [1.87, 1.72, 1.63, 1.57, 1.52, 1.48, 1.46, 1.43, 1.41, 1.39, 1.38, 1.37, 1.35, 1.34, 1.33, 1.32, 1.31, 1.3, 1.29, 1.28, 1.28, 1.27, 1.26, 1.25, 1.24]
LOSS_MS_KRUM_20 = [1.86, 1.72, 1.63, 1.57, 1.52, 1.48, 1.45, 1.43, 1.41, 1.39, 1.37, 1.36, 1.35, 1.34, 1.33, 1.32, 1.31, 1.3, 1.29, 1.28, 1.28, 1.27, 1.26, 1.26, 1.25]
LOSS_MS_MEDIAN_20 = [1.92, 1.74, 1.64, 1.58, 1.53, 1.49, 1.46, 1.44, 1.42, 1.4, 1.38, 1.37, 1.36, 1.35, 1.34, 1.33, 1.32, 1.31, 1.31, 1.3, 1.29, 1.29, 1.28, 1.28, 1.27]
LOSS_MS_TRIM_20 = [1.84, 1.7, 1.62, 1.57, 1.52, 1.49, 1.46, 1.43, 1.41, 1.39, 1.38, 1.36, 1.35, 1.34, 1.33, 1.32, 1.31, 1.3, 1.29, 1.28, 1.27, 1.26, 1.26, 1.25, 1.24]
LOSS_MS_KRUM_25 = [1.9, 1.74, 1.64, 1.57, 1.52, 1.49, 1.46, 1.43, 1.41, 1.4, 1.38, 1.37, 1.36, 1.35, 1.34, 1.33, 1.32, 1.31, 1.3, 1.3, 1.29, 1.28, 1.28, 1.27, 1.27]
LOSS_MS_MEDIAN_25 = [1.98, 1.78, 1.67, 1.6, 1.55, 1.51, 1.48, 1.46, 1.44, 1.42, 1.41, 1.39, 1.38, 1.37, 1.36, 1.35, 1.35, 1.34, 1.33, 1.33, 1.32, 1.31, 1.31, 1.3, 1.3]
LOSS_MS_BULYAN_25 = [1.86, 1.72, 1.63, 1.57, 1.52, 1.48, 1.45, 1.43, 1.41, 1.39, 1.38, 1.36, 1.35, 1.34, 1.33, 1.32, 1.31, 1.3, 1.29, 1.29, 1.28, 1.27, 1.26, 1.26, 1.25]
LOSS_MS_TRIM_25 = [1.88, 1.72, 1.63, 1.57, 1.52, 1.48, 1.45, 1.42, 1.4, 1.38, 1.37, 1.35, 1.34, 1.33, 1.32, 1.31, 1.3, 1.29, 1.28, 1.27, 1.27, 1.26, 1.25, 1.25, 1.24]
LOSS_MS_KRUM_30 = [2.0, 1.82, 1.72, 1.65, 1.6, 1.56, 1.53, 1.5, 1.48, 1.46, 1.45, 1.43, 1.42, 1.41, 1.4, 1.39, 1.38, 1.37, 1.36, 1.36, 1.35, 1.34, 1.34, 1.33, 1.33]
LOSS_MS_MEDIAN_30 = [2.08, 1.85, 1.74, 1.66, 1.61, 1.57, 1.54, 1.51, 1.49, 1.47, 1.46, 1.44, 1.43, 1.42, 1.41, 1.4, 1.39, 1.38, 1.37, 1.37, 1.36, 1.35, 1.35, 1.34, 1.34]
LOSS_MS_BULYAN_30 = [2.0, 1.8, 1.68, 1.61, 1.56, 1.52, 1.49, 1.47, 1.45, 1.43, 1.42, 1.41, 1.4, 1.39, 1.38, 1.37, 1.36, 1.35, 1.34, 1.34, 1.33, 1.32, 1.32, 1.31, 1.31]
LOSS_MS_TRIM_30 = [1.95, 1.76, 1.65, 1.58, 1.53, 1.5, 1.47, 1.45, 1.43, 1.41, 1.4, 1.39, 1.38, 1.37, 1.36, 1.35, 1.34, 1.33, 1.32, 1.32, 1.31, 1.3, 1.3, 1.29, 1.29]

# series that are not listed for a panel coincide with the MANDERA curve (ACC_BASE / LOSS_BASE)
ACC_PANELS = {
    ("GA", 5): {"Krum": ACC_GA_KRUM_5, "FLTrust": ACC_GA_FLT_5},
    ("GA", 10): {"Krum": ACC_GA_KRUM_10, "FLTrust": ACC_GA_FLT_10},
    ("GA", 15): {"Krum": ACC_GA_KRUM_15, "FLTrust": ACC_GA_FLT_15},
    ("GA", 20): {"Krum": ACC_GA_KRUM_20, "FLTrust": ACC_GA_FLT_20},
    ("GA", 25): {"Krum": ACC_GA_KRUM_25, "FLTrust": ACC_GA_FLT_25},
    ("GA", 30): {"Krum": ACC_GA_KRUM_30, "FLTrust": ACC_GA_FLT_30},
    ("ZG", 5): {"Krum": ACC_ZG_KRUM_5, "Bulyan": ACC_ZG_BULYAN_5, "FLTrust": ACC_ZG_FLT_5},
    ("ZG", 10): {"Krum": ACC_ZG_KRUM_10, "Bulyan": ACC_ZG_BULYAN_10, "Median": ACC_ZG_TRIM_10, "Trim-mean": ACC_ZG_TRIM_10, "FLTrust": ACC_ZG_FLT_10},
    ("ZG", 15): {"Krum": ACC_ZG_KRUM_15, "Bulyan": ACC_ZG_BULYAN_15, "Median": ACC_ZG_MEDIAN_15, "Trim-mean": ACC_ZG_TRIM_15, "FLTrust": ACC_ZG_FLT_15},
    ("ZG", 20): {"Krum": ACC_ZG_KRUM_20, "Bulyan": ACC_ZG_BULYAN_20, "Median": ACC_ZG_MEDIAN_20, "Trim-mean": ACC_ZG_TRIM_20, "FLTrust": ACC_ZG_FLT_20},
    ("ZG", 25): {"Krum": ACC_ZG_KRUM_25, "Bulyan": ACC_ZG_BULYAN_25, "Median": ACC_ZG_MEDIAN_25, "Trim-mean": ACC_ZG_TRIM_25, "FLTrust": ACC_ZG_FLT_25},
    ("ZG", 30): {"Krum": ACC_ZG_KRUM_30, "Bulyan": ACC_ZG_BULYAN_30, "Median": ACC_ZG_MEDIAN_30, "Trim-mean": ACC_ZG_TRIM_30, "FLTrust": ACC_ZG_FLT_30},
    ("SF", 5): {"Krum": ACC_SF_KRUM_5, "Bulyan": ACC_SF_BULYAN_5, "FLTrust": ACC_SF_FLT_5},
    ("SF", 10): {"Krum": ACC_SF_KRUM_10, "Bulyan": ACC_SF_BULYAN_10, "Median": ACC_SF_MEDIAN_10, "Trim-mean": ACC_SF_TRIM_10, "FLTrust": ACC_SF_FLT_10},
    ("SF", 15): {"Krum": ACC_SF_KRUM_15, "Bulyan": ACC_SF_BULYAN_15, "Median": ACC_SF_MEDIAN_15, "Trim-mean": ACC_SF_TRIM_15, "FLTrust": ACC_SF_FLT_15},
    ("SF", 20): {"Krum": ACC_SF_KRUM_20, "Bulyan": ACC_SF_BULYAN_20, "Median": ACC_SF_MEDIAN_20, "Trim-mean": ACC_SF_TRIM_20, "FLTrust": ACC_SF_FLT_20},
    ("SF", 25): {"Krum": ACC_SF_KRUM_25, "Bulyan": ACC_SF_BULYAN_25, "Median": ACC_SF_MEDIAN_25, "Trim-mean": ACC_SF_TRIM_25, "FLTrust": ACC_SF_FLT_25},
    ("SF", 30): {"Krum": ACC_SF_KRUM_30, "Bulyan": ACC_SF_BULYAN_30, "Median": ACC_SF_MEDIAN_30, "Trim-mean": ACC_SF_TRIM_30, "FLTrust": ACC_SF_FLT_30},
    ("MS", 20): {"Krum": ACC_MS_KRUM_20, "Median": ACC_MS_MEDIAN_20},
    ("MS", 25): {"Krum": ACC_MS_KRUM_25, "Median": ACC_MS_MEDIAN_25, "Bulyan": ACC_MS_BULYAN_25, "Trim-mean": ACC_MS_TRIM_25},
    ("MS", 30): {"Krum": ACC_MS_KRUM_30, "Median": ACC_MS_MEDIAN_30, "Bulyan": ACC_MS_BULYAN_30, "Trim-mean": ACC_MS_TRIM_30},
}

LOSS_PANELS = {
    ("GA", 5): {"Krum": LOSS_GA_KRUM_5, "FLTrust": LOSS_GA_FLT_5},
    ("GA", 10): {"Krum": LOSS_GA_KRUM_10, "FLTrust": LOSS_GA_FLT_10},
    ("GA", 15): {"Krum": LOSS_GA_KRUM_15, "FLTrust": LOSS_GA_FLT_15},
    ("GA", 20): {"Krum": LOSS_GA_KRUM_20, "FLTrust": LOSS_GA_FLT_20},
    ("GA", 25): {"Krum": LOSS_GA_KRUM_25, "FLTrust": LOSS_GA_FLT_25},
    ("GA", 30): {"Krum": LOSS_GA_KRUM_30, "FLTrust": LOSS_GA_FLT_30},
    ("ZG", 5): {"Krum": LOSS_ZG_KRUM_5, "Bulyan": LOSS_ZG_BULYAN_5, "FLTrust": LOSS_ZG_FLT_5},
    ("ZG", 10): {"Krum": LOSS_ZG_KRUM_10, "Bulyan": LOSS_ZG_BULYAN_10, "Median": LOSS_ZG_MEDIAN_10, "Trim-mean": LOSS_ZG_TRIM_10, "FLTrust": LOSS_ZG_FLT_10},
    ("ZG", 15): {"Krum": LOSS_ZG_KRUM_15, "Bulyan": LOSS_ZG_BULYAN_15, "Median": LOSS_ZG_MEDIAN_15, "Trim-mean": LOSS_ZG_TRIM_15, "FLTrust": LOSS_ZG_FLT_15},
    ("ZG", 20): {"Krum": LOSS_ZG_KRUM_20, "Bulyan": LOSS_ZG_BULYAN_20, "Median": LOSS_ZG_MEDIAN_20, "Trim-mean": LOSS_ZG_TRIM_20, "FLTrust": LOSS_ZG_FLT_20},
    ("ZG", 25): {"Krum": LOSS_ZG_KRUM_25, "Bulyan": LOSS_ZG_BULYAN_25, "Median": LOSS_ZG_MEDIAN_25, "Trim-mean": LOSS_ZG_TRIM_25, "FLTrust": LOSS_ZG_FLT_25},
    ("ZG", 30): {"Krum": LOSS_ZG_KRUM_30, "Bulyan": LOSS_ZG_BULYAN_30, "Median": LOSS_ZG_MEDIAN_30, "Trim-mean": LOSS_ZG_TRIM_30, "FLTrust": LOSS_ZG_FLT_30},
    ("SF", 5): {"Krum": LOSS_SF_KRUM_5, "Bulyan": LOSS_SF_BULYAN_5, "Median": LOSS_SF_MEDIAN_5, "Trim-mean": LOSS_SF_TRIM_5, "FLTrust": LOSS_SF_FLT_5},
    ("SF", 10): {"Krum": LOSS_SF_KRUM_10, "Bulyan": LOSS_SF_BULYAN_10, "Median": LOSS_SF_MEDIAN_10, "Trim-mean": LOSS_SF_TRIM_10, "FLTrust": LOSS_SF_FLT_10},
    ("SF", 15): {"Krum": LOSS_SF_KRUM_15, "Bulyan": LOSS_SF_BULYAN_15, "Median": LOSS_SF_MEDIAN_15, "Trim-mean": LOSS_SF_TRIM_15, "FLTrust": LOSS_SF_FLT_15},
    ("SF", 20): {"Krum": LOSS_SF_KRUM_20, "Bulyan": LOSS_SF_BULYAN_20, "Median": LOSS_SF_MEDIAN_20, "Trim-mean": LOSS_SF_TRIM_20, "FLTrust": LOSS_SF_FLT_20},
    ("SF", 25): {"Krum": LOSS_SF_KRUM_25, "Bulyan": LOSS_SF_BULYAN_25, "Median": LOSS_SF_MEDIAN_25, "Trim-mean": LOSS_SF_TRIM_25, "FLTrust": LOSS_SF_FLT_25},
    ("SF", 30): {"Krum": LOSS_SF_KRUM_30, "Bulyan": LOSS_SF_BULYAN_30, "Median": LOSS_SF_MEDIAN_30, "Trim-mean": LOSS_SF_TRIM_30, "FLTrust": LOSS_SF_FLT_30},
    ("MS", 5): {"Krum": LOSS_MS_KRUM_5},
    ("MS", 10): {"Krum": LOSS_MS_KRUM_10, "Median": LOSS_MS_MEDIAN_10},
    ("MS", 15): {"Krum": LOSS_MS_KRUM_15, "Median": LOSS_MS_MEDIAN_15},
    ("MS", 20): {"Krum": LOSS_MS_KRUM_20, "Median": LOSS_MS_MEDIAN_20, "Trim-mean": LOSS_MS_TRIM_20},
    ("MS", 25): {"Krum": LOSS_MS_KRUM_25, "Median": LOSS_MS_MEDIAN_25, "Bulyan": LOSS_MS_BULYAN_25, "Trim-mean": LOSS_MS_TRIM_25},
    ("MS", 30): {"Krum": LOSS_MS_KRUM_30, "Median": LOSS_MS_MEDIAN_30, "Bulyan": LOSS_MS_BULYAN_30, "Trim-mean": LOSS_MS_TRIM_30},
}

ACC_YRANGE = {"GA": [5.3, 90.8], "ZG": [33.1, 91.2], "SF": [42.1, 90.4], "MS": [75.77, 88.37]}
LOSS_YRANGE = {"GA": [0.9, 9.0], "ZG": [0.965, 6.44], "SF": [1.133, 2.98], "MS": [1.177, 2.129]}

# ---------------- styles ----------------
STYLE = {
    "Krum": dict(color="#BEBEBE", width=1.9, dash="7px,3px,2px,3px"),
    "NO-attack": dict(color="#0000FF", width=1.7, dash="7px,5px"),
    "Bulyan": dict(color="#2A9DF4", width=1.7, dash="2px,3px,7px,3px"),
    "Median": dict(color="#4CCB3F", width=1.9, dash="2px,5px"),
    "Trim-mean": dict(color="#F7C211", width=1.7, dash="7px,5px"),
    "MANDERA": dict(color="#FF0000", width=2.3, dash="solid"),
    "FLTrust": dict(color="#C4C4C4", width=1.7, dash="2px,5px"),
}
LEGEND_OF = {"Krum": 0, "NO-attack": 0, "Bulyan": 1, "Median": 1, "Trim-mean": 2, "MANDERA": 2, "FLTrust": 3}

# ---------------- geometry (pixels) ----------------
CHARTS = [
    dict(name="acc", panels=ACC_PANELS, base=ACC_BASE, yrange=ACC_YRANGE, ticks=ACC_TICKS, ticktext=ACC_TICKTEXT,
         minor=ACC_MINOR, col_x=[68.5, 190.8, 313.1, 435.4, 557.7, 680.0], pw=111.7,
         row_y=[135.0, 256.6, 378.3, 500.6], ph=111.8, strip_top=101.0, strip_right=808.0,
         ytitle="Accuracy", ytitle_y=374.0, xtitle_y=653.0, key_x=[230, 366, 478, 619], key_top=3.3, key_h=33.4),
    dict(name="loss", panels=LOSS_PANELS, base=LOSS_BASE, yrange=LOSS_YRANGE, ticks=LOSS_TICKS, ticktext=LOSS_TICKTEXT,
         minor=LOSS_MINOR, col_x=[73.3, 194.8, 316.3, 437.8, 559.3, 680.8], pw=110.0,
         row_y=[830.0, 952.4, 1074.8, 1197.2], ph=111.4, strip_top=796.0, strip_right=808.0,
         ytitle="log(Loss)", ytitle_y=1070.0, xtitle_y=1350.0, key_x=[232, 369.5, 479.7, 621.3], key_top=699.0, key_h=35.0),
]

def px(x):
    return x / W

def py(y):
    return 1 - y / H

fig = go.Figure()
layout = dict(template="none", width=W, height=H, margin=dict(l=0, r=0, t=0, b=0, pad=0, autoexpand=False),
              paper_bgcolor="white", plot_bgcolor="white", showlegend=True, font=dict(family=FONT))
shapes, annotations = [], []

axis_idx = 0
for ci, ch in enumerate(CHARTS):
    for ri, row in enumerate(ROWS):
        for ki, col in enumerate(COLS):
            axis_idx += 1
            sfx = "" if axis_idx == 1 else str(axis_idx)
            x0 = ch["col_x"][ki]
            y0 = ch["row_y"][ri]
            bottom = ri == len(ROWS) - 1
            left = ki == 0
            layout["xaxis" + sfx] = dict(
                domain=[px(x0), px(x0 + ch["pw"])], range=[-0.2, 26.2], anchor="y" + sfx, automargin=False,
                tickvals=X_TICKS, ticktext=X_TICKTEXT, showticklabels=bottom, tickangle=0,
                ticks="outside" if bottom else "", ticklen=5, tickwidth=1.1, tickcolor="#333333",
                ticklabelstandoff=-2,
                tickfont=dict(size=17, color="#4D4D4D", family=FONT),
                showgrid=True, gridcolor="#EBEBEB", gridwidth=1.1, zeroline=False,
                minor=dict(tickvals=X_MINOR, showgrid=True, gridcolor="#F2F2F2", gridwidth=0.6, ticks=""),
                showline=True, mirror=True, linecolor="#ADADAD", linewidth=1.3, fixedrange=True)
            layout["yaxis" + sfx] = dict(
                domain=[py(y0 + ch["ph"]), py(y0)], range=ch["yrange"][row], anchor="x" + sfx, automargin=False,
                tickvals=ch["ticks"][row], ticktext=ch["ticktext"][row], showticklabels=left, tickangle=0,
                ticks="outside" if left else "", ticklen=5, tickwidth=1.1, tickcolor="#333333",
                ticklabelstandoff=4,
                tickfont=dict(size=17, color="#4D4D4D", family=FONT),
                showgrid=True, gridcolor="#EBEBEB", gridwidth=1.1, zeroline=False,
                minor=dict(tickvals=ch["minor"][row], showgrid=True, gridcolor="#F2F2F2", gridwidth=0.6, ticks=""),
                showline=True, mirror=True, linecolor="#ADADAD", linewidth=1.3, fixedrange=True)

            series = ch["panels"].get((row, col), {})
            first = (ri == 0 and ki == 0)
            for d, lab in zip(DEFENCES, LABELS):
                yvals = series.get(d, ch["base"])
                st = STYLE[d]
                lg_n = ci * 4 + LEGEND_OF[d] + 1
                fig.add_trace(go.Scatter(
                    x=EPOCHS, y=yvals, mode="lines", name=lab,
                    line=dict(color=st["color"], width=st["width"], dash=st["dash"]),
                    xaxis="x" + sfx, yaxis="y" + sfx, hoverinfo="skip",
                    legend="legend" if lg_n == 1 else "legend%d" % lg_n,
                    legendgroup="%s-%s" % (ch["name"], d), showlegend=first))

    # facet strips (top)
    for ki, col in enumerate(COLS):
        x0 = ch["col_x"][ki]
        shapes.append(dict(type="rect", xref="paper", yref="paper", x0=px(x0), x1=px(x0 + ch["pw"]),
                           y0=py(ch["row_y"][0]), y1=py(ch["strip_top"]), fillcolor="#D9D9D9",
                           line=dict(width=0), layer="below"))
        annotations.append(dict(xref="paper", yref="paper", x=px(x0 + ch["pw"] / 2),
                                y=py((ch["strip_top"] + ch["row_y"][0]) / 2), text=str(col), showarrow=False,
                                xanchor="center", yanchor="middle",
                                font=dict(size=17, color="#1A1A1A", family=FONT)))
    # facet strips (right)
    right_x = ch["col_x"][-1] + ch["pw"]
    for ri, row in enumerate(ROWS):
        y0 = ch["row_y"][ri]
        shapes.append(dict(type="rect", xref="paper", yref="paper", x0=px(right_x), x1=1.0,
                           y0=py(y0 + ch["ph"]), y1=py(y0), fillcolor="#D9D9D9",
                           line=dict(width=0), layer="below"))
        annotations.append(dict(xref="paper", yref="paper", x=px(ch["strip_right"]),
                                y=py(y0 + ch["ph"] / 2), text=row, showarrow=False, textangle=90,
                                xanchor="center", yanchor="middle",
                                font=dict(size=17, color="#1A1A1A", family=FONT)))
    # axis titles
    mid_x = (ch["col_x"][0] + right_x) / 2
    annotations.append(dict(xref="paper", yref="paper", x=px(mid_x), y=py(ch["xtitle_y"]),
                            text="Number of Epoch", showarrow=False, xanchor="center", yanchor="middle",
                            font=dict(size=21, color="black", family=FONT)))
    annotations.append(dict(xref="paper", yref="paper", x=px(25), y=py(ch["ytitle_y"]),
                            text=ch["ytitle"], showarrow=False, textangle=-90, xanchor="center",
                            yanchor="middle", font=dict(size=21, color="black", family=FONT)))
    # legend title
    annotations.append(dict(xref="paper", yref="paper", x=px(141.5), y=py(ch["key_top"] + ch["key_h"]),
                            text="Defence", showarrow=False, xanchor="left", yanchor="middle",
                            font=dict(size=21, color="black", family=FONT)))
    # legend key backgrounds and legend boxes
    for li, kx in enumerate(ch["key_x"]):
        nkeys = 1 if li == 3 else 2
        shapes.append(dict(type="rect", xref="paper", yref="paper", x0=px(kx), x1=px(kx + 34),
                           y0=py(ch["key_top"] + nkeys * ch["key_h"]), y1=py(ch["key_top"]),
                           fillcolor="#F2F2F2", line=dict(width=0), layer="below"))
        lg_n = ci * 4 + li + 1
        layout["legend" if lg_n == 1 else "legend%d" % lg_n] = dict(
            x=px(kx - 2), y=py(ch["key_top"] - 0.8), xanchor="left", yanchor="top", orientation="v",
            bgcolor="rgba(0,0,0,0)", borderwidth=0, tracegroupgap=ch["key_h"] - 25.1,
            itemwidth=33, traceorder="grouped",
            font=dict(size=17, color="black", family=FONT))

layout["shapes"] = shapes
layout["annotations"] = annotations
fig.update_layout(**layout)
fig.write_html("out.html", config={"displayModeBar": False},
               post_script="document.body.style.margin='0px';document.body.style.overflow='hidden';")
